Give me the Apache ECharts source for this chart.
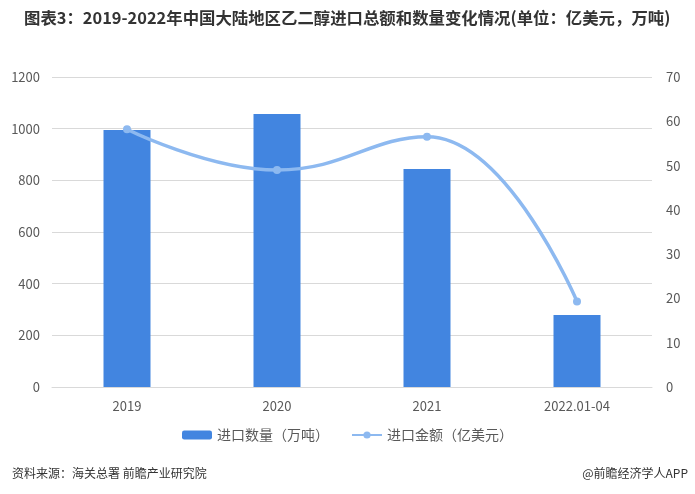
<!DOCTYPE html>
<html><head><meta charset="utf-8">
<script src="https://cdn.jsdelivr.net/npm/echarts@6/dist/echarts.min.js"></script>
<style>html,body{margin:0;padding:0;background:#fff}#c{width:695px;height:494px}</style>
</head><body><div id="c"></div>
<script>
const categories = ['2019', '2020', '2021', '2022.01-04'];
const importVolume = [995, 1057, 844, 279];
const importValue = [58.2, 49.0, 56.5, 19.3];
const leftTicks = [0, 200, 400, 600, 800, 1000, 1200];
const rightTicks = [0, 10, 20, 30, 40, 50, 60, 70];

const chart = echarts.init(document.getElementById('c'));
const font = '"Noto Sans CJK SC", "Noto Sans", sans-serif';
chart.setOption({
  backgroundColor: '#fff',
  animation: false,
  textStyle: { fontFamily: font },
  title: [
    { text: '图表3：2019-2022年中国大陆地区乙二醇进口总额和数量变化情况(单位：亿美元，万吨)', left: 19, top: 5,
      textStyle: { fontSize: 16.4, fontWeight: 'bold', color: '#333', fontFamily: font } },
    { text: '资料来源：海关总署 前瞻产业研究院', left: 7, top: 462,
      textStyle: { fontSize: 12, fontWeight: 'normal', color: '#333', fontFamily: font } },
    { text: '@前瞻经济学人APP', right: 2, top: 462,
      textStyle: { fontSize: 12, fontWeight: 'normal', color: '#333', fontFamily: font } }
  ],
  legend: {
    bottom: 47, left: 'center', itemGap: 22, itemWidth: 30, itemHeight: 9,
    textStyle: { fontSize: 14, color: '#595959', fontFamily: font },
    data: ['进口数量（万吨）', '进口金额（亿美元）']
  },
  grid: { left: 52, right: 43, top: 77, bottom: 107 },
  xAxis: {
    type: 'category', data: categories,
    axisLine: { lineStyle: { color: '#d9d9d9' } },
    axisTick: { show: false },
    axisLabel: { color: '#595959', fontSize: 13, margin: 13 }
  },
  yAxis: [
    { type: 'value', min: leftTicks[0], max: leftTicks[leftTicks.length - 1], interval: 200,
      axisLine: { show: false }, axisTick: { show: false },
      splitLine: { lineStyle: { color: '#d9d9d9' } },
      axisLabel: { color: '#595959', fontSize: 13, margin: 12, formatter: v => String(v) } },
    { type: 'value', min: rightTicks[0], max: rightTicks[rightTicks.length - 1], interval: 10,
      axisLine: { show: false }, axisTick: { show: false },
      splitLine: { show: false },
      axisLabel: { color: '#595959', fontSize: 13, margin: 14, formatter: v => String(v) } }
  ],
  series: [
    { name: '进口数量（万吨）', type: 'bar', data: importVolume, barWidth: 47,
      itemStyle: { color: '#4285e0' } },
    { name: '进口金额（亿美元）', type: 'line', yAxisIndex: 1, data: importValue, smooth: 0.45,
      symbol: 'circle', symbolSize: 8,
      lineStyle: { color: '#8db9f0', width: 3.5 },
      itemStyle: { color: '#8db9f0' } }
  ]
});
</script></body></html>
